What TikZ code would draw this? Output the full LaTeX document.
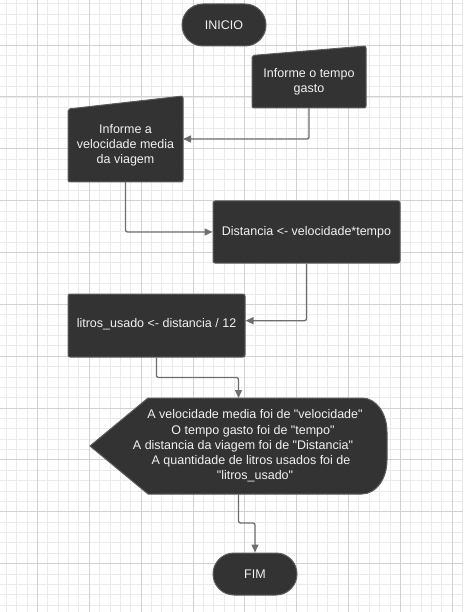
\documentclass[tikz,border=0pt]{standalone}
\usepackage{fontspec}
\setmainfont{Liberation Sans}
\newfontfamily\lsans{Liberation Sans}
\usetikzlibrary{arrows.meta,calc}
\definecolor{boxfill}{HTML}{333333}
\definecolor{boxline}{HTML}{5C5C5C}
\definecolor{txtcol}{HTML}{F2F2F2}
\definecolor{conncol}{HTML}{6E6E6E}
\definecolor{gridminor}{HTML}{EAEAEA}
\definecolor{gridmajor}{HTML}{D2D2D2}
\tikzset{
  shapebox/.style={draw=none, fill=none, inner sep=0pt, outer sep=0pt},
  shapefill/.style={fill=boxfill, draw=boxline, line width=1pt},
  txt/.style={text=txtcol, align=center, inner sep=0pt, font=\lsans\fontsize{12.5}{15.2}\selectfont},
  conn/.style={draw=conncol, line width=1.3pt, rounded corners=2pt, -{Triangle[length=8pt,width=7pt]}},
  gminor/.style={draw=gridminor, line width=0.6pt},
  gmajor/.style={draw=gridmajor, line width=0.7pt}
}
\begin{document}
\begin{tikzpicture}[x=1pt,y=-1pt]
\useasboundingbox (0,0) rectangle (463,612);
\fill[white] (0,0) rectangle (463,612);
% grid
\foreach \i in {0,...,45} {\draw[gminor] ({6.2+\i*10.37},0) -- ({6.2+\i*10.37},612);}
\foreach \i in {0,...,59} {\draw[gminor] (0,{3.5+\i*10.37}) -- (463,{3.5+\i*10.37});}
\foreach \i in {0,...,8} {\draw[gmajor] ({37.3+\i*51.85},0) -- ({37.3+\i*51.85},612);}
\foreach \i in {0,...,11} {\draw[gmajor] (0,{45+\i*51.85}) -- (463,{45+\i*51.85});}

% INICIO
\node[shapefill, rounded corners=21pt, minimum width=84pt, minimum height=42pt, inner sep=0pt, txt] (inicio) at (224,25) {INICIO};

% Informe o tempo gasto (manual input)
\node[shapebox, minimum width=114pt, minimum height=62pt] (tempo) at (309,77) {};
\path[shapefill, rounded corners=2pt] ($(tempo.north west)+(0,9.5)$) -- (tempo.north east) -- (tempo.south east) -- (tempo.south west) -- cycle;
\node[txt] (tempotxt) at ($(tempo.center)+(0,4.5)$) {Informe o tempo\\gasto};

% Informe a velocidade media da viagem
\node[shapebox, minimum width=115pt, minimum height=86pt] (veloc) at (125.5,139) {};
\path[shapefill, rounded corners=2pt] ($(veloc.north west)+(0,13)$) -- (veloc.north east) -- (veloc.south east) -- (veloc.south west) -- cycle;
\node[txt] (veloctxt) at ($(veloc.center)+(0,6)$) {Informe a\\velocidade media\\da viagem};

% Distancia
\node[shapefill, rounded corners=2pt, minimum width=187pt, minimum height=62pt, txt] (dist) at (306.5,232) {Distancia <- velocidade*tempo};

% litros
\node[shapefill, rounded corners=2pt, minimum width=177pt, minimum height=63pt, inner sep=0pt] (litros) at (156.5,325.5) {};
\node[txt] (litrostxt) at ($(litros.center)+(0,-1.5)$) {litros\_usado <- distancia / 12};

% Display
\node[shapebox, minimum width=297pt, minimum height=96pt] (saida) at (238.5,446) {};
\path[shapefill] (saida.west) -- ($(saida.north west)+(58,0)$) -- ($(saida.north east)+(-25,0)$)
  .. controls ($(saida.north east)+(-11,0)$) and ($(saida.north east)+(0,15)$) .. ($(saida.north east)+(0,34)$)
  -- ($(saida.south east)+(0,-34)$)
  .. controls ($(saida.south east)+(0,-15)$) and ($(saida.south east)+(-11,0)$) .. ($(saida.south east)+(-25,0)$)
  -- ($(saida.south west)+(58,0)$) -- cycle;
\node[txt] (saidatxt) at ($(saida.center)+(16.5,0)$) {A velocidade media foi de "velocidade"\\O tempo gasto foi de "tempo"\kern4pt\\A distancia da viagem foi de "Distancia"\kern24pt\\A quantidade de litros usados foi de\kern8pt\\"litros\_usado"};

% FIM
\node[shapefill, rounded corners=21pt, minimum width=84pt, minimum height=42pt, inner sep=0pt, txt] (fim) at (255,574) {FIM};

% connectors
\draw[conn] (tempo.south) |- (veloc.east);
\draw[conn] (veloc.south) |- (dist.west);
\draw[conn] (dist.south) |- ([yshift=4.8pt]litros.east);
\draw[conn] (litros.south) -- ++(0,20) -| (saida.north);
\draw[conn] (saida.south) -- ++(0,29) -| (fim.north);
\end{tikzpicture}
\end{document}
